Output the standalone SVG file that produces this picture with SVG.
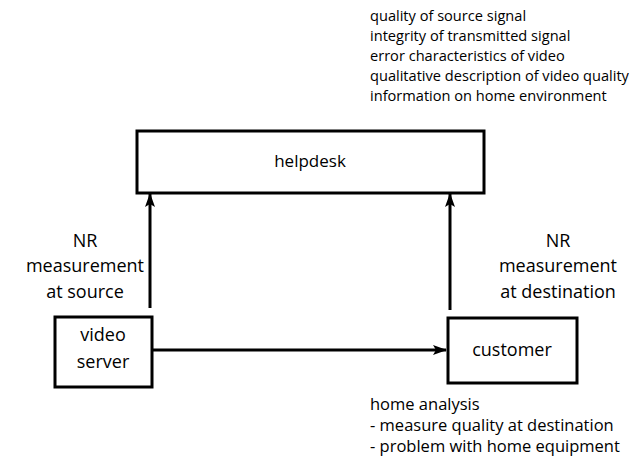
<svg xmlns="http://www.w3.org/2000/svg" width="634" height="458" viewBox="0 0 634 458">
<style>
text{font-family:"Open Sans","Noto Sans",sans-serif;fill:#000}
.box{fill:#fff;stroke:#000;stroke-width:3}
.big{font-size:18px}
.sm{font-size:14.6px}
.bt{font-size:16.5px}
.mid{text-anchor:middle}
.ln{stroke:#000;stroke-width:3;fill:none}
</style>
<defs>
<marker id="ah" markerWidth="14" markerHeight="10" refX="13" refY="5" orient="auto" markerUnits="userSpaceOnUse" viewBox="0 0 14 10">
<path d="M0,0 L14,5 L0,10 L3,5 Z" fill="#000"/>
</marker>
</defs>
<g id="connectors">
<line class="ln" x1="150" y1="308" x2="150" y2="194" marker-end="url(#ah)"/>
<line class="ln" x1="450" y1="310" x2="450" y2="194" marker-end="url(#ah)"/>
<line class="ln" x1="153" y1="350" x2="446" y2="350" marker-end="url(#ah)"/>
</g>
<g id="helpdesk">
<rect class="box" x="137" y="131" width="347" height="62"/>
<text class="mid" x="310" y="167" font-size="17">helpdesk</text>
</g>
<g id="videoserver">
<rect class="box" x="55" y="317" width="97" height="70"/>
<text class="big mid" x="103" y="341">video</text>
<text class="big mid" x="103" y="368">server</text>
</g>
<g id="customer">
<rect class="box" x="448" y="318" width="129" height="65"/>
<text class="big mid" x="512" y="356">customer</text>
</g>
<g id="labels">
<text class="big mid" x="85" y="247">NR</text>
<text class="big mid" x="85" y="272">measurement</text>
<text class="big mid" x="85" y="298">at source</text>
<text class="big mid" x="558" y="247">NR</text>
<text class="big mid" x="558" y="272">measurement</text>
<text class="big mid" x="558" y="298">at destination</text>
<text class="sm" x="370" y="21">quality of source signal</text>
<text class="sm" x="370" y="41">integrity of transmitted signal</text>
<text class="sm" x="370" y="61">error characteristics of video</text>
<text class="sm" x="370" y="81">qualitative description of video quality</text>
<text class="sm" x="370" y="101">information on home environment</text>
<text class="bt" x="370" y="410">home analysis</text>
<text class="bt" x="370" y="431">- measure quality at destination</text>
<text class="bt" x="370" y="452">- problem with home equipment</text>
</g>
</svg>
